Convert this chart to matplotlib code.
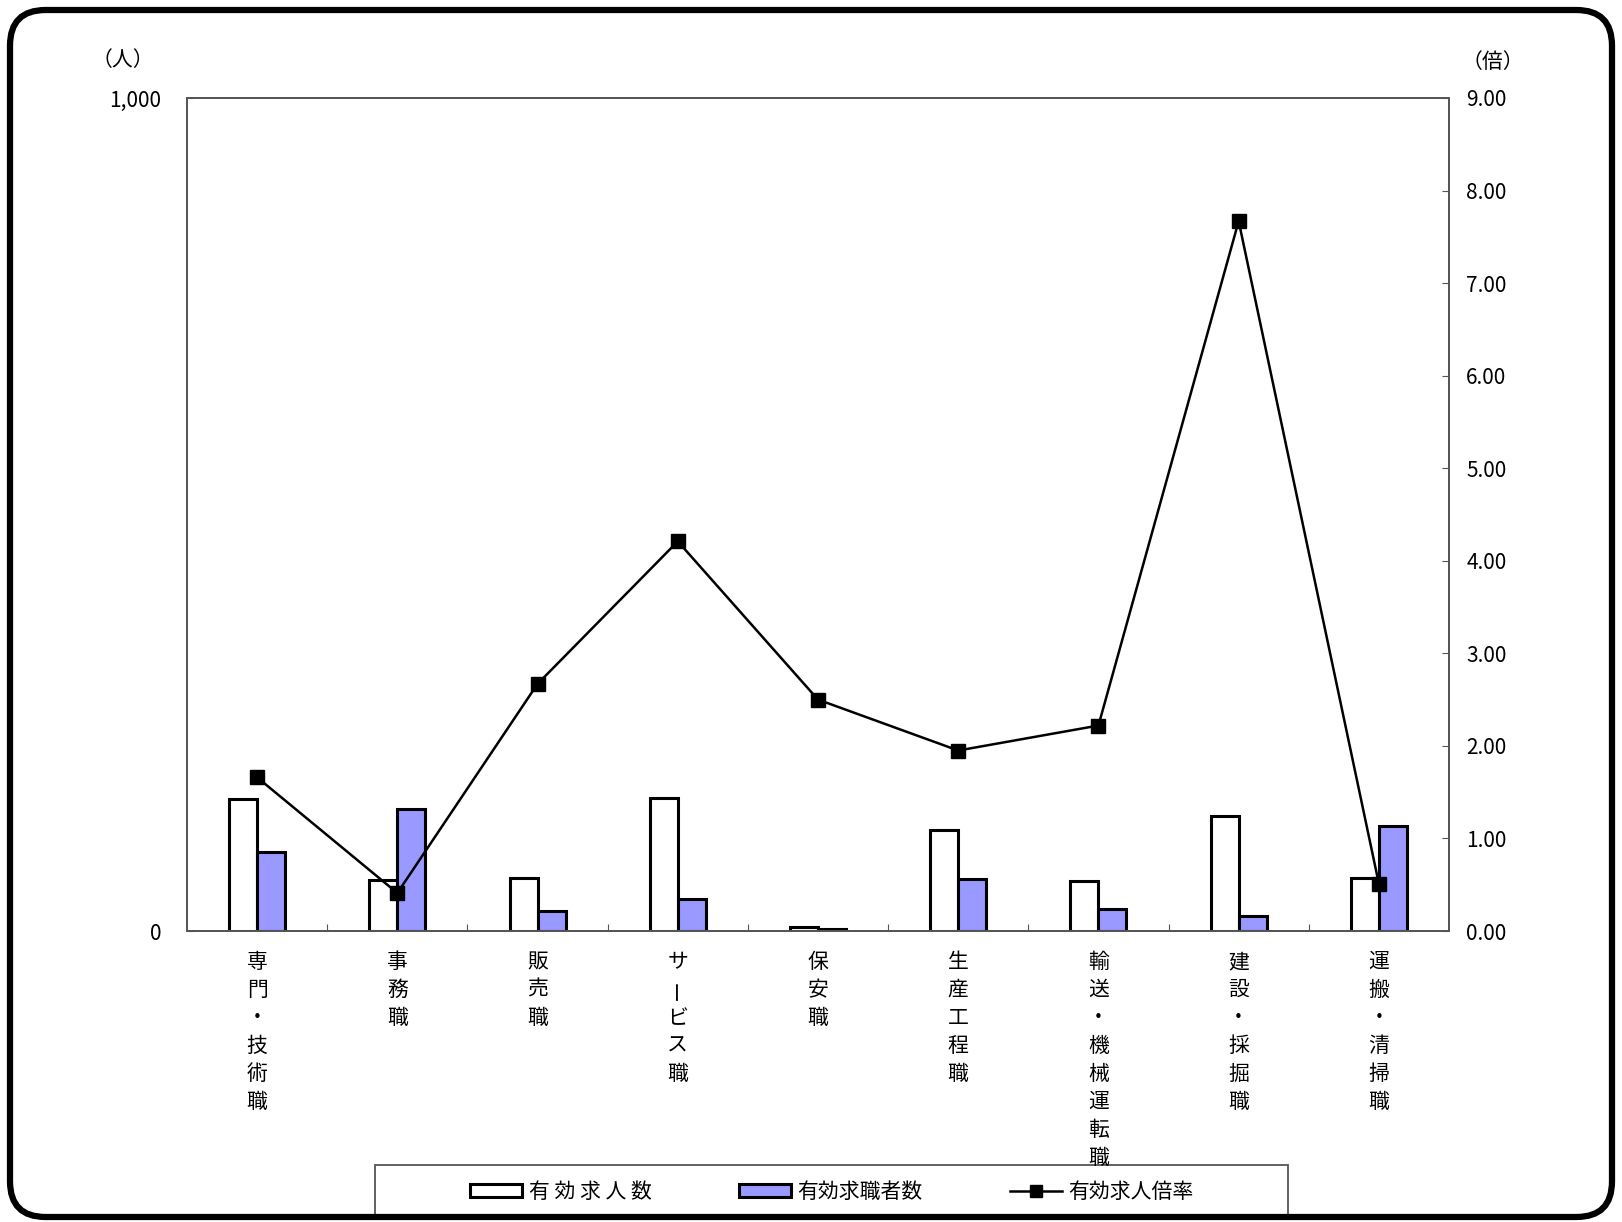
import numpy as np
import matplotlib
matplotlib.use('Agg')
import matplotlib.pyplot as plt
from matplotlib import transforms
from matplotlib.patches import FancyBboxPatch, Rectangle, Patch
from matplotlib.lines import Line2D

plt.rcParams['font.family'] = ['Noto Sans CJK JP', 'DejaVu Sans']

# data
categories = ['専門・技術職', '事務職', '販売職', 'サービス職', '保安職',
              '生産工程職', '輸送・機械運転職', '建設・採掘職', '運搬・清掃職']
openings = [158, 61, 64, 160, 5, 121, 60, 138, 64]      # 有効求人数
seekers = [95, 147, 24, 38, 2, 62, 27, 18, 126]         # 有効求職者数
ratio = [1.66, 0.41, 2.67, 4.21, 2.50, 1.95, 2.22, 7.67, 0.51]  # 有効求人倍率

W, H = 1622, 1222
fig = plt.figure(figsize=(W / 100, H / 100), dpi=100)

# plot area in pixels
L, R, T, B = 187, 1449, 98, 931
ax = fig.add_axes([L / W, 1 - B / H, (R - L) / W, (B - T) / H])
ax2 = ax.twinx()

x = np.arange(len(categories))
bw = 0.2
ax.bar(x - bw / 2, openings, bw, color='white', edgecolor='black', linewidth=2.2, zorder=2)
ax.bar(x + bw / 2, seekers, bw, color='#9999FF', edgecolor='black', linewidth=2.2, zorder=2)
ax2.plot(x, ratio, color='black', linewidth=1.8, marker='s', markersize=10,
         markerfacecolor='black', markeredgecolor='black', zorder=3)

ax.set_xlim(-0.5, len(categories) - 0.5)
ax.set_ylim(0, 1000)
ax2.set_ylim(0, 9)

spine_col = '#555555'
for a in (ax, ax2):
    for s in a.spines.values():
        s.set_color(spine_col)
        s.set_linewidth(1.3)

ax.set_yticks([0, 1000])
ax.set_yticklabels(['0', '1,000'])
ax.tick_params(axis='y', direction='in', length=4, color=spine_col, pad=18.5, labelsize=15)
ax.set_xticks(np.arange(len(categories) - 1) + 0.5)
ax.set_xticklabels([])
ax.tick_params(axis='x', direction='in', length=5, color=spine_col)

ax2.set_yticks(np.arange(0, 10, 1))
ax2.set_yticklabels(['%.2f' % v for v in np.arange(0, 10, 1)])
ax2.tick_params(axis='y', direction='in', length=5, color=spine_col, pad=12.5, labelsize=15)

# vertical category labels, one character per row
tr = transforms.blended_transform_factory(ax.transData, fig.transFigure)
for i, name in enumerate(categories):
    for j, ch in enumerate(name):
        yy = 1 - (962 + 28 * j) / H
        rot = 90 if ch == 'ー' else 0
        fig.text(i, yy, ch, transform=tr, ha='center', va='center',
                 fontsize=15, rotation=rot)

# unit labels
fig.text(123 / W, 1 - 60 / H, '（人）', ha='center', va='center', fontsize=15)
fig.text(1493 / W, 1 - 62 / H, '（倍）', ha='center', va='center', fontsize=15)

# legend
handles = [Patch(facecolor='white', edgecolor='black', linewidth=2.2),
           Patch(facecolor='#9999FF', edgecolor='black', linewidth=2.2),
           Line2D([], [], color='black', linewidth=1.8, marker='s', markersize=9)]
labels = ['有 効 求 人 数', '有効求職者数', '有効求人倍率']
fig.legend(handles, labels, loc='center', bbox_to_anchor=(832 / W, 1 - 1192 / H),
           ncol=3, frameon=False, fontsize=15, handlelength=2.5, handleheight=0.55,
           handletextpad=0.3, columnspacing=4.2)
fig.patches.append(Rectangle((375 / W, 1 - 1218 / H), (1288 - 375) / W, (1218 - 1165) / H,
                             transform=fig.transFigure, facecolor='none',
                             edgecolor='#555555', linewidth=1.3))

# rounded outer frame
fig.patches.append(FancyBboxPatch((10 / W, 5 / H), (W - 20) / W, (H - 15) / H,
                                  boxstyle='round,pad=0,rounding_size=0.022',
                                  transform=fig.transFigure, facecolor='none',
                                  edgecolor='black', linewidth=4.5,
                                  mutation_aspect=W / H))

fig.savefig('out.png', dpi=100)
